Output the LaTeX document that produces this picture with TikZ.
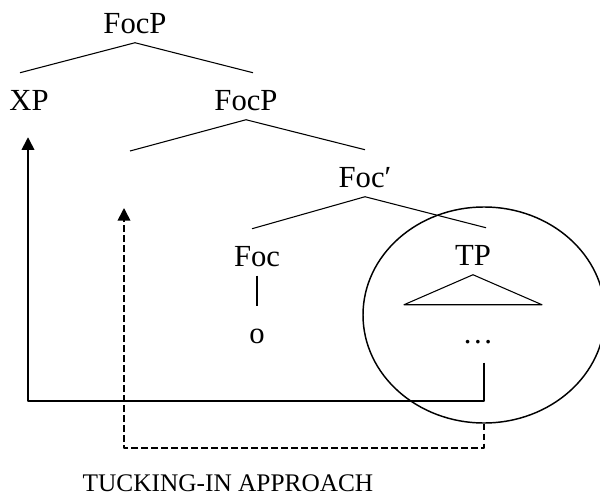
\documentclass[tikz,border=0pt]{standalone}
\usepackage{fontspec}
\setmainfont{Liberation Serif}
\usetikzlibrary{arrows.meta,calc,shapes.geometric}
\begin{document}
\begin{tikzpicture}[x=0.75pt, y=-0.75pt, line join=round, >={Triangle[width=9.5pt,length=9.5pt]},
  cat/.style={font=\fontsize{23}{27}\selectfont, inner sep=0pt, anchor=base, text height=27.75pt, text depth=7.1pt},
  branch/.style={line width=0.8pt},
  move/.style={line width=1.2pt}]
\useasboundingbox (0,0) rectangle (600,496);
% labels of the tree
\node[cat] (focp) at (135,33) {FocP};
\node[cat] (xp) at (29,110) {XP};
\node[cat] (focpb) at (246,110) {FocP};
\node[cat] (focbar) at (365,187) {Foc′};
\node[cat] (foc) at (257,266) {Foc};
\node[cat] (tp) at (473,265) {TP};
\node[cat] (o) at (257,343) {o};
\node[cat] (dots) at (478,343) {…};
\coordinate (spec) at (130,151);
\coordinate (landing) at (124,208);
% branches
\draw[branch] (focp.south) -- ($(xp.north)+(-9,0)$);
\draw[branch] (focp.south) -- ($(focpb.north)+(7,0)$);
\draw[branch] (focpb.south) -- (spec);
\draw[branch] (focpb.south) -- (focbar.north);
\draw[branch] (focbar.south) -- ($(foc.north)+(-5,0)$);
\draw[branch] (focbar.south) -- ($(tp.north)+(13,0)$);
\draw[branch] (tp.south) -- ++(-69,30) -- ++(138,0) -- cycle;
\draw[branch] (foc.south) -- (o.north);
% the moved TP
\node[draw, ellipse, line width=1.1pt, inner sep=0pt, minimum width=181.5pt, minimum height=162pt] (domain) at (484,315) {};
\coordinate (gap) at ($(dots.south)+(6,10)$);
\draw[move,->] (gap) -- ++(0,38) -| ($(xp.south)+(-1,17.5)$);
\draw[move,dashed,dash pattern=on 5pt off 2.5pt,->] (domain.south) -- ++(0,24) -| (landing);
\node[font=\fontsize{19}{22}\selectfont, inner sep=0pt, anchor=base] (caption) at (228,491) {TUCKING-IN APPROACH};
\end{tikzpicture}
\end{document}
